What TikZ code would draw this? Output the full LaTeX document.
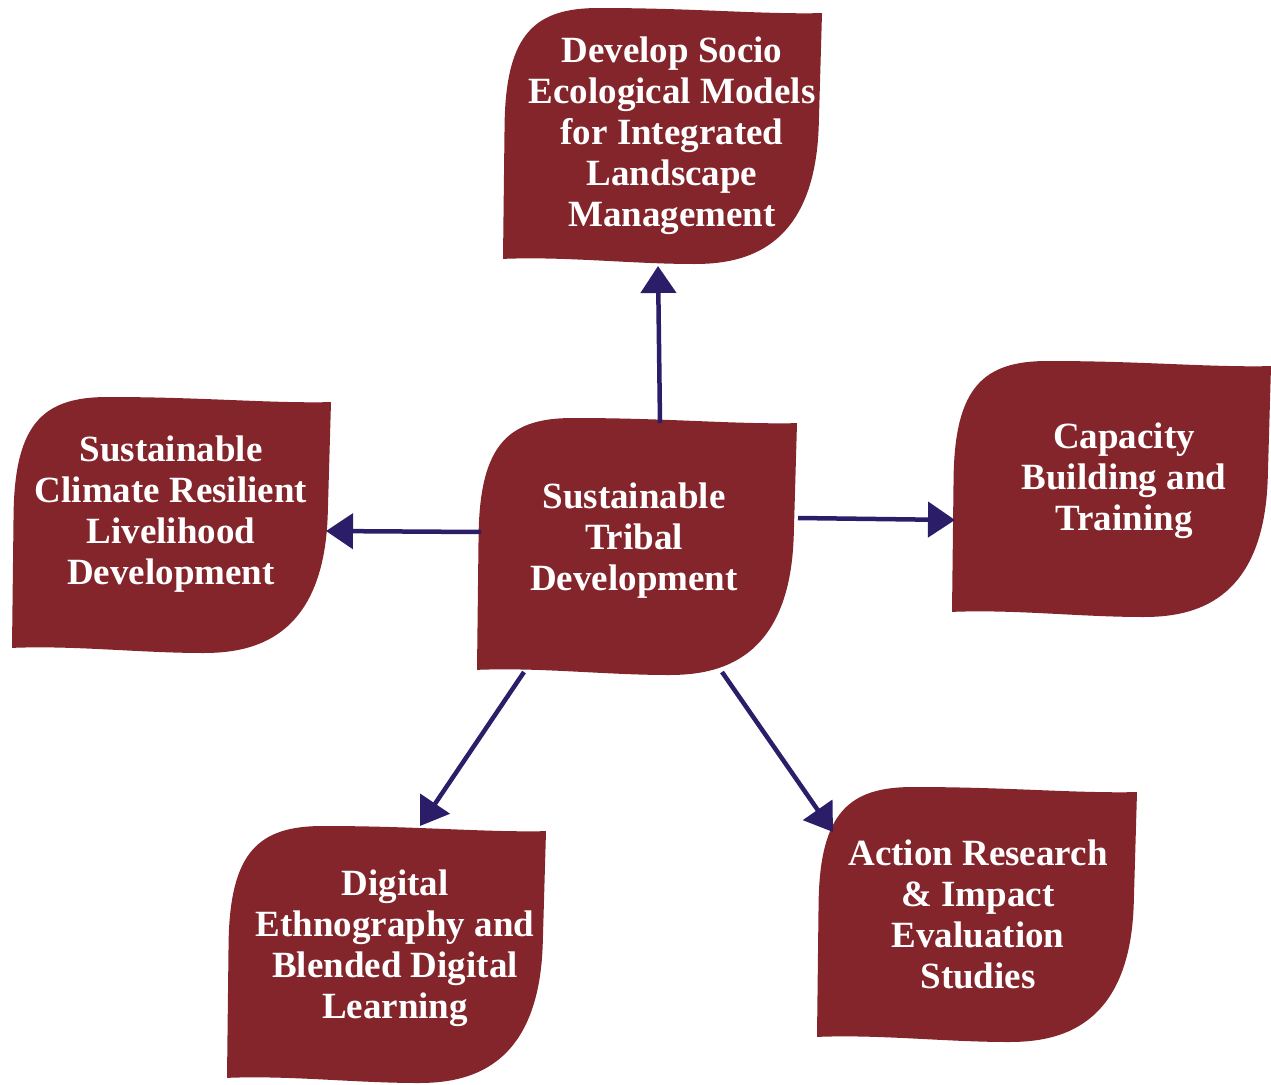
\documentclass[tikz,border=0pt]{standalone}
\usepackage{fontspec}
\setmainfont{Liberation Serif}
\usetikzlibrary{arrows.meta}
\definecolor{leafred}{RGB}{131,37,43}
\definecolor{arrowblue}{RGB}{43,29,104}
\tikzset{
  leaf/.style={fill=leafred},
  lbl/.style={text=white, font=\fontsize{37}{41}\selectfont\bfseries, align=center, inner sep=0pt},
  link/.style={draw=arrowblue, line width=4.5pt, -{Triangle[length=27pt,width=35pt]}},
}
\newcommand{\leafpath}[4]{%
  \begin{scope}[shift={(#1,#2)}, xscale=#3, yscale=#4]
    \fill[leaf] (0,0.98) -- (0.005,0.45)
      .. controls (0.01,0.1) and (0.1,0) .. (0.3,0)
      .. controls (0.6,0) and (0.8,0.025) .. (1,0.02)
      -- (0.99,0.45)
      .. controls (0.98,0.95) and (0.75,1) .. (0.6,1)
      .. controls (0.4,1) and (0.2,0.97) .. (0,0.98) -- cycle;
  \end{scope}}
\begin{document}
\begin{tikzpicture}[x={(1pt,0)}, y={(0,-1pt)}]
  \useasboundingbox (0,0) rectangle (1271,1084);
  % shapes
  \leafpath{503}{8}{319}{256}
  \leafpath{952}{361}{319}{256}
  \leafpath{12}{397}{319}{256}
  \leafpath{477}{418}{320}{257}
  \leafpath{227}{826}{319}{257}
  \leafpath{817}{787}{320}{255}
  % labels
  \node[lbl] (top) at (672,136) {Develop Socio\\Ecological Models\\for Integrated\\Landscape\\Management};
  \node[lbl] (right) at (1124,481) {Capacity\\Building and\\Training};
  \node[lbl] (left) at (171,514) {Sustainable\\Climate Resilient\\Livelihood\\Development};
  \node[lbl] (center) at (634,541) {Sustainable\\Tribal\\Development};
  \node[lbl] (botleft) at (395,948) {Digital\\Ethnography and\\Blended Digital\\Learning};
  \node[lbl] (botright) at (978,914) {Action Research\\\& Impact\\Evaluation\\Studies};
  % connector end points on the shapes
  \coordinate (cN) at (660,423);
  \coordinate (cW) at (481,532);
  \coordinate (cE) at (798,518);
  \coordinate (cSW) at (524,672);
  \coordinate (cSE) at (722,672);
  \coordinate (topS) at (658,266);
  \coordinate (leftE) at (326,531);
  \coordinate (rightW) at (955,520);
  \coordinate (blN) at (420,826);
  \coordinate (brN) at (833,832);
  % connectors
  \draw[link] (cN) -- (topS);
  \draw[link] (cW) -- (leftE);
  \draw[link] (cE) -- (rightW);
  \draw[link] (cSW) -- (blN);
  \draw[link] (cSE) -- (brN);
\end{tikzpicture}
\end{document}
